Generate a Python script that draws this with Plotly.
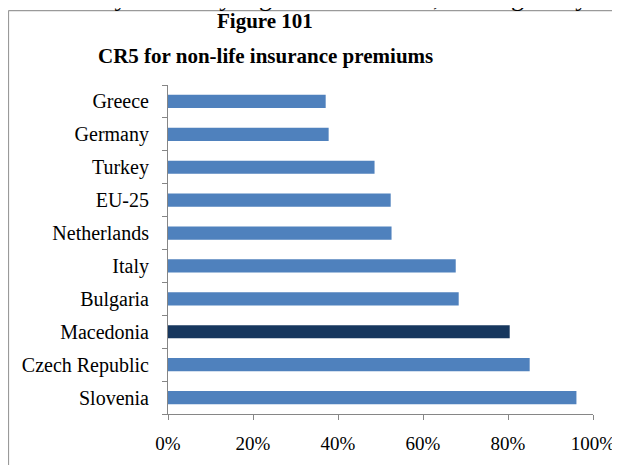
import plotly.graph_objects as go

categories = ["Greece", "Germany", "Turkey", "EU-25", "Netherlands", "Italy",
              "Bulgaria", "Macedonia", "Czech Republic", "Slovenia"]
values = [0.371, 0.378, 0.486, 0.524, 0.526, 0.677, 0.684, 0.804, 0.851, 0.961]
highlight = "Macedonia"
x_ticks = [0, 0.2, 0.4, 0.6, 0.8, 1.0]
title_lines = ["Figure 101", "CR5 for non-life insurance premiums"]
cropped_text = "sector by relatively high concentration, although they"

# page offset (browser body margin)
OFF = 8
W, H = 620 - OFF, 465 - OFF
# plot area in screenshot pixels
PL, PR, PT, PB = 168, 593, 85, 414.5
ML, MR, MT, MB = PL - OFF, W - (PR - OFF), PT - OFF, H - (PB - OFF)
pw, ph = W - ML - MR, H - MT - MB

def px_x(p):
    return (p - OFF - ML) / pw

def px_y(p):
    return (H - MB - (p - OFF)) / ph

colors = ["#17375E" if c == highlight else "#4F81BD" for c in categories]
font_family = "Liberation Serif, Times New Roman, serif"

fig = go.Figure(go.Bar(
    x=values, y=categories, orientation="h",
    marker=dict(color=colors, line=dict(width=0)),
    hoverinfo="x+y",
))

title_ann = [
    dict(text="<b>" + t + "</b>", xref="paper", yref="paper",
         x=px_x(265), y=px_y(cy), xanchor="center", yanchor="middle",
         showarrow=False,
         font=dict(family=font_family, size=21, color="black"))
    for t, cy in zip(title_lines, [21, 56])
]

fig.update_layout(
    width=W, height=H,
    margin=dict(l=ML, r=MR, t=MT, b=MB, autoexpand=False),
    paper_bgcolor="white", plot_bgcolor="white",
    showlegend=False,
    bargap=0.6,
    font=dict(family=font_family, size=19, color="black"),
    xaxis=dict(
        range=[0, 1], tickvals=x_ticks, tickformat=".0%",
        showgrid=False, zeroline=False, automargin=False,
        showline=True, linecolor="#868686", linewidth=1,
        ticks="outside", ticklen=5, tickcolor="#868686",
        ticklabelstandoff=7,
        tickfont=dict(family=font_family, size=19, color="black"),
    ),
    yaxis=dict(
        categoryorder="array", categoryarray=categories[::-1],
        showgrid=False, zeroline=False, automargin=False,
        showline=True, linecolor="#868686", linewidth=1,
        ticks="outside", ticklen=5, tickcolor="#868686",
        tickson="boundaries", ticklabelstandoff=14,
        tickfont=dict(family=font_family, size=20, color="black"),
    ),
    shapes=[
        dict(type="line", xref="paper", yref="paper",
             x0=px_x(8.5), x1=px_x(630), y0=px_y(10.5), y1=px_y(10.5),
             line=dict(color="#9A9A9A", width=1.2)),
        dict(type="line", xref="paper", yref="paper",
             x0=px_x(8.5), x1=px_x(8.5), y0=px_y(10.5), y1=px_y(475),
             line=dict(color="#9A9A9A", width=1.2)),
    ],
    annotations=[
        dict(text=cropped_text, xref="paper", yref="paper",
             x=px_x(310), y=px_y(14), xanchor="center", yanchor="bottom",
             showarrow=False,
             font=dict(family=font_family, size=26, color="black")),
    ] + title_ann,
)

fig.write_html("out.html")
